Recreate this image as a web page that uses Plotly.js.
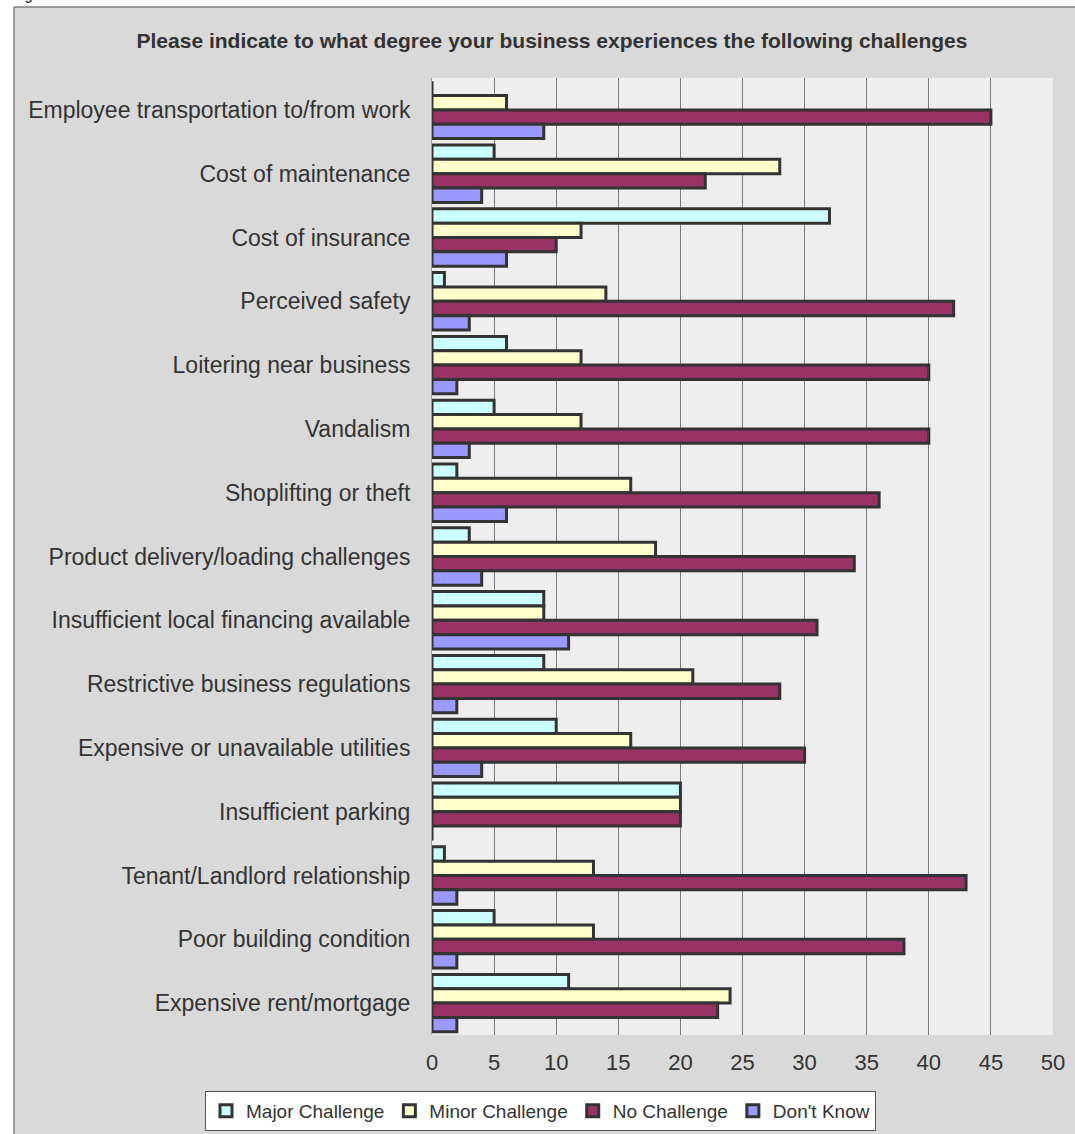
<!DOCTYPE html>
<html>
<head>
<meta charset="utf-8">
<script src="https://cdn.plot.ly/plotly-3.0.1.min.js"></script>
<style>html,body{margin:0;padding:0;background:#fff;}#chart{width:1075px;height:1134px;}</style>
</head>
<body>
<div id="chart"></div>
<script>
const categories = [
  "Employee transportation to/from work",
  "Cost of maintenance",
  "Cost of insurance",
  "Perceived safety",
  "Loitering near business",
  "Vandalism",
  "Shoplifting or theft",
  "Product delivery/loading challenges",
  "Insufficient local financing available",
  "Restrictive business regulations",
  "Expensive or unavailable utilities",
  "Insufficient parking",
  "Tenant/Landlord relationship",
  "Poor building condition",
  "Expensive rent/mortgage"
];
const majorChallenge = [0, 5, 32, 1, 6, 5, 2, 3, 9, 9, 10, 20, 1, 5, 11];
const minorChallenge = [6, 28, 12, 14, 12, 12, 16, 18, 9, 21, 16, 20, 13, 13, 24];
const noChallenge    = [45, 22, 10, 42, 40, 40, 36, 34, 31, 28, 30, 20, 43, 38, 23];
const dontKnow       = [9, 4, 6, 3, 2, 3, 6, 4, 11, 2, 4, 0, 2, 2, 2];
const seriesNames = ["Major Challenge", "Minor Challenge", "No Challenge", "Don't Know"];
const xTickValues = [0, 5, 10, 15, 20, 25, 30, 35, 40, 45, 50];

const colors = ["#ccffff", "#ffffcc", "#993366", "#9999ff"];
const seriesData = [majorChallenge, minorChallenge, noChallenge, dontKnow];
const FONT = "Liberation Sans, Arial, sans-serif";

const traces = seriesData.map((vals, i) => ({
  type: "bar",
  orientation: "h",
  name: seriesNames[i],
  x: vals,
  y: categories,
  marker: { color: colors[i], line: { color: "#333333", width: 3 } },
  hoverinfo: "skip"
}));

const L = 432, R = 1053, T = 78, B = 1035, W = 1075, H = 1134;
const pw = R - L, ph = B - T;
const px = v => (v - L) / pw;
const py = v => (B - v) / ph;

const layout = {
  width: W, height: H,
  margin: { l: L, r: W - R, t: T, b: H - B, pad: 0, autoexpand: false },
  paper_bgcolor: "#ffffff",
  plot_bgcolor: "rgba(0,0,0,0)",
  barmode: "group",
  bargap: 0.1,
  bargroupgap: 0,
  showlegend: true,
  font: { family: FONT, color: "#333333" },
  title: {
    text: "Please indicate to what degree your business experiences the following challenges",
    font: { family: FONT, size: 21, color: "#333333", weight: "bold" },
    xref: "paper", x: px(552), xanchor: "center",
    yref: "container", y: 1 - 41 / H, yanchor: "middle"
  },
  xaxis: {
    range: [0, 50],
    tickvals: xTickValues,
    ticktext: xTickValues.map(String),
    showgrid: true, gridcolor: "#7a7a7a", gridwidth: 1,
    zeroline: false, showline: false,
    ticks: "", ticklabelstandoff: 12,
    tickfont: { family: FONT, size: 22, color: "#333333" },
    fixedrange: true
  },
  yaxis: {
    type: "category",
    autorange: "reversed",
    showgrid: false, zeroline: false,
    showline: true, linecolor: "#a0a0a0", linewidth: 1,
    ticks: "", ticklabelstandoff: 16,
    tickfont: { family: FONT, size: 23, color: "#333333" },
    fixedrange: true
  },
  legend: {
    orientation: "h",
    x: px(205), xanchor: "left",
    y: py(1091), yanchor: "top",
    bgcolor: "#ffffff", bordercolor: "#555555", borderwidth: 1,
    font: { family: FONT, size: 19, color: "#333333" },
    traceorder: "normal",
    itemwidth: 30
  },
  shapes: [
    { type: "rect", xref: "paper", yref: "paper", layer: "below",
      x0: px(14), x1: px(1200), y0: py(1400), y1: py(7),
      fillcolor: "#d9d9d9", line: { width: 0 } },
    { type: "line", xref: "paper", yref: "paper", layer: "below",
      x0: px(14), x1: px(1200), y0: py(7), y1: py(7),
      line: { color: "#7f7f7f", width: 1.5 } },
    { type: "line", xref: "paper", yref: "paper", layer: "below",
      x0: px(14), x1: px(14), y0: py(1400), y1: py(7),
      line: { color: "#7f7f7f", width: 1.5 } },
    { type: "rect", xref: "paper", yref: "paper", layer: "below",
      x0: 0, x1: 1, y0: 0, y1: 1,
      fillcolor: "#eeeeee", line: { width: 0 } }
  ],
  annotations: [
    { text: "<b><i>Figure 5</i></b>", xref: "paper", yref: "paper",
      x: px(12), xanchor: "left", y: py(5), yanchor: "bottom",
      showarrow: false, font: { family: FONT, size: 13, color: "#333333" } }
  ]
};

Plotly.newPlot("chart", traces, layout, { displayModeBar: false, staticPlot: true });
</script>
</body>
</html>
